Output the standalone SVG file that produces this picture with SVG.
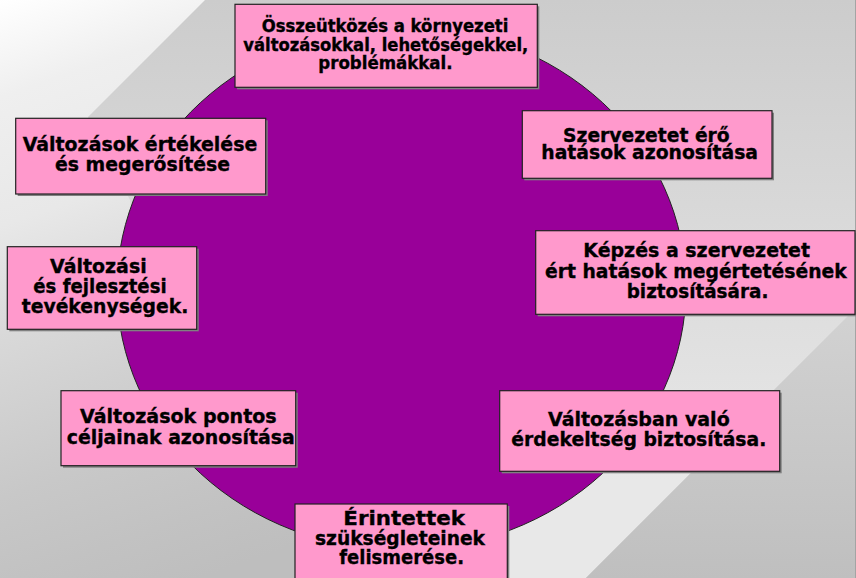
<svg xmlns="http://www.w3.org/2000/svg" width="856" height="578" viewBox="0 0 856 578">
  <defs>
    <linearGradient id="bgBase" x1="0" y1="0" x2="0" y2="578" gradientUnits="userSpaceOnUse">
      <stop offset="0" stop-color="#cccccc"/>
      <stop offset="0.5" stop-color="#dddddd"/>
      <stop offset="1" stop-color="#c2c2c2"/>
    </linearGradient>
    <linearGradient id="bgLeft" x1="0" y1="0" x2="200" y2="578" gradientUnits="userSpaceOnUse">
      <stop offset="0" stop-color="#ffffff"/>
      <stop offset="0.15" stop-color="#efefef"/>
      <stop offset="0.35" stop-color="#e8e8e8"/>
      <stop offset="0.5" stop-color="#dadada"/>
      <stop offset="0.77" stop-color="#c8c8c8"/>
      <stop offset="0.9" stop-color="#c2c2c2"/>
      <stop offset="1" stop-color="#bebebe"/>
    </linearGradient>
    <linearGradient id="bgStripe" x1="0" y1="240" x2="0" y2="480" gradientUnits="userSpaceOnUse">
      <stop offset="0" stop-color="#dadada"/>
      <stop offset="1" stop-color="#e8e8e8"/>
    </linearGradient>
    <linearGradient id="bgDark" x1="0" y1="308" x2="0" y2="578" gradientUnits="userSpaceOnUse">
      <stop offset="0" stop-color="#d2d2d2"/>
      <stop offset="1" stop-color="#bfbfbf"/>
    </linearGradient>
    <style>
      .box { fill: #ff99cc; stroke: #222222; stroke-width: 1.2; }
      .shadow { fill: #808080; }
      .lbl { font-family: "DejaVu Sans", "Liberation Sans", sans-serif; font-weight: bold; fill: #000000; stroke: #000000; stroke-width: 0.35px; }
      .s17 { font-size: 17px; }
      .s20 { font-size: 20px; }
    </style>
  </defs>

  <!-- background -->
  <g id="background">
    <rect x="0" y="0" width="856" height="578" fill="url(#bgBase)"/>
    <polygon points="0,0 205,0 88,117 130,200 150,390 300,390 300,578 0,578" fill="url(#bgLeft)"/>
    <polygon points="380,578 586,578 856,308 856,240 620,240" fill="url(#bgStripe)"/>
    <polygon points="856,308 586,578 856,578" fill="url(#bgDark)"/>
    <line x1="855.5" y1="0" x2="855.5" y2="578" stroke="#a4a4a4" stroke-width="1"/>
  </g>

  <!-- central cycle disc -->
  <g id="cycle">
    <ellipse cx="401.5" cy="288" rx="284.5" ry="262" fill="#990099" stroke="#222222" stroke-width="1"/>
  </g>

  <g id="connectors"/>

  <g id="node-osszeutkozes">
    <rect class="shadow" x="237" y="6.3" width="302.3" height="83"/>
    <rect class="box" x="235" y="4.3" width="302.3" height="83"/>
    <text class="lbl s17">
      <tspan x="261.7" y="32" textLength="246.7" lengthAdjust="spacingAndGlyphs">Összeütközés a környezeti</tspan>
      <tspan x="243.3" y="50.5" textLength="285" lengthAdjust="spacingAndGlyphs">változásokkal, lehetőségekkel,</tspan>
      <tspan x="318.3" y="68.5" textLength="134.3" lengthAdjust="spacingAndGlyphs">problémákkal.</tspan>
    </text>
  </g>

  <g id="node-szervezetet">
    <rect class="shadow" x="524.3" y="112.7" width="249.7" height="67.6"/>
    <rect class="box" x="522.3" y="110.7" width="249.7" height="67.6"/>
    <text class="lbl s20">
      <tspan x="563" y="141.7" textLength="166.7" lengthAdjust="spacingAndGlyphs">Szervezetet érő</tspan>
      <tspan x="541.3" y="159.3" textLength="216.7" lengthAdjust="spacingAndGlyphs">hatások azonosítása</tspan>
    </text>
  </g>

  <g id="node-kepzes">
    <rect class="shadow" x="537.7" y="232.7" width="319.3" height="83.6"/>
    <rect class="box" x="535.7" y="230.7" width="319.3" height="83.6"/>
    <text class="lbl s20">
      <tspan x="583.3" y="257.3" textLength="226.7" lengthAdjust="spacingAndGlyphs">Képzés a szervezetet</tspan>
      <tspan x="545" y="277.7" textLength="301.7" lengthAdjust="spacingAndGlyphs">ért hatások megértetésének</tspan>
      <tspan x="626.7" y="297.7" textLength="141.7" lengthAdjust="spacingAndGlyphs">biztosítására.</tspan>
    </text>
  </g>

  <g id="node-valtozasban">
    <rect class="shadow" x="501.7" y="392.7" width="280" height="80.6"/>
    <rect class="box" x="499.7" y="390.7" width="280" height="80.6"/>
    <text class="lbl s20">
      <tspan x="548" y="425.7" textLength="181.7" lengthAdjust="spacingAndGlyphs">Változásban való</tspan>
      <tspan x="511.3" y="445.7" textLength="255" lengthAdjust="spacingAndGlyphs">érdekeltség biztosítása.</tspan>
    </text>
  </g>

  <g id="node-erintettek">
    <rect class="shadow" x="297" y="506" width="212.3" height="80"/>
    <rect class="box" x="295" y="504" width="212.3" height="80"/>
    <text class="lbl s20">
      <tspan x="343.3" y="525.3" textLength="121.7" lengthAdjust="spacingAndGlyphs">Érintettek</tspan>
      <tspan x="315" y="544.7" textLength="170" lengthAdjust="spacingAndGlyphs">szükségleteinek</tspan>
      <tspan x="339.3" y="564" textLength="124.7" lengthAdjust="spacingAndGlyphs">felismerése.</tspan>
    </text>
  </g>

  <g id="node-pontos-celok">
    <rect class="shadow" x="63" y="392.7" width="234.7" height="75"/>
    <rect class="box" x="61" y="390.7" width="234.7" height="75"/>
    <text class="lbl s20">
      <tspan x="80" y="423.3" textLength="196.7" lengthAdjust="spacingAndGlyphs">Változások pontos</tspan>
      <tspan x="66.7" y="444" textLength="228" lengthAdjust="spacingAndGlyphs">céljainak azonosítása</tspan>
    </text>
  </g>

  <g id="node-fejlesztesi">
    <rect class="shadow" x="9.3" y="248.7" width="189.4" height="82.6"/>
    <rect class="box" x="7.3" y="246.7" width="189.4" height="82.6"/>
    <text class="lbl s20">
      <tspan x="50" y="273.3" textLength="96.7" lengthAdjust="spacingAndGlyphs">Változási</tspan>
      <tspan x="33.3" y="292.7" textLength="133.3" lengthAdjust="spacingAndGlyphs">és fejlesztési</tspan>
      <tspan x="21.7" y="312.7" textLength="166.7" lengthAdjust="spacingAndGlyphs">tevékenységek.</tspan>
    </text>
  </g>

  <g id="node-ertekeles">
    <rect class="shadow" x="17.7" y="120.3" width="250" height="75.7"/>
    <rect class="box" x="15.7" y="118.3" width="250" height="75.7"/>
    <text class="lbl s20">
      <tspan x="22.7" y="151.2" textLength="234.6" lengthAdjust="spacingAndGlyphs">Változások értékelése</tspan>
      <tspan x="55" y="170.7" textLength="175" lengthAdjust="spacingAndGlyphs">és megerősítése</tspan>
    </text>
  </g>
</svg>
